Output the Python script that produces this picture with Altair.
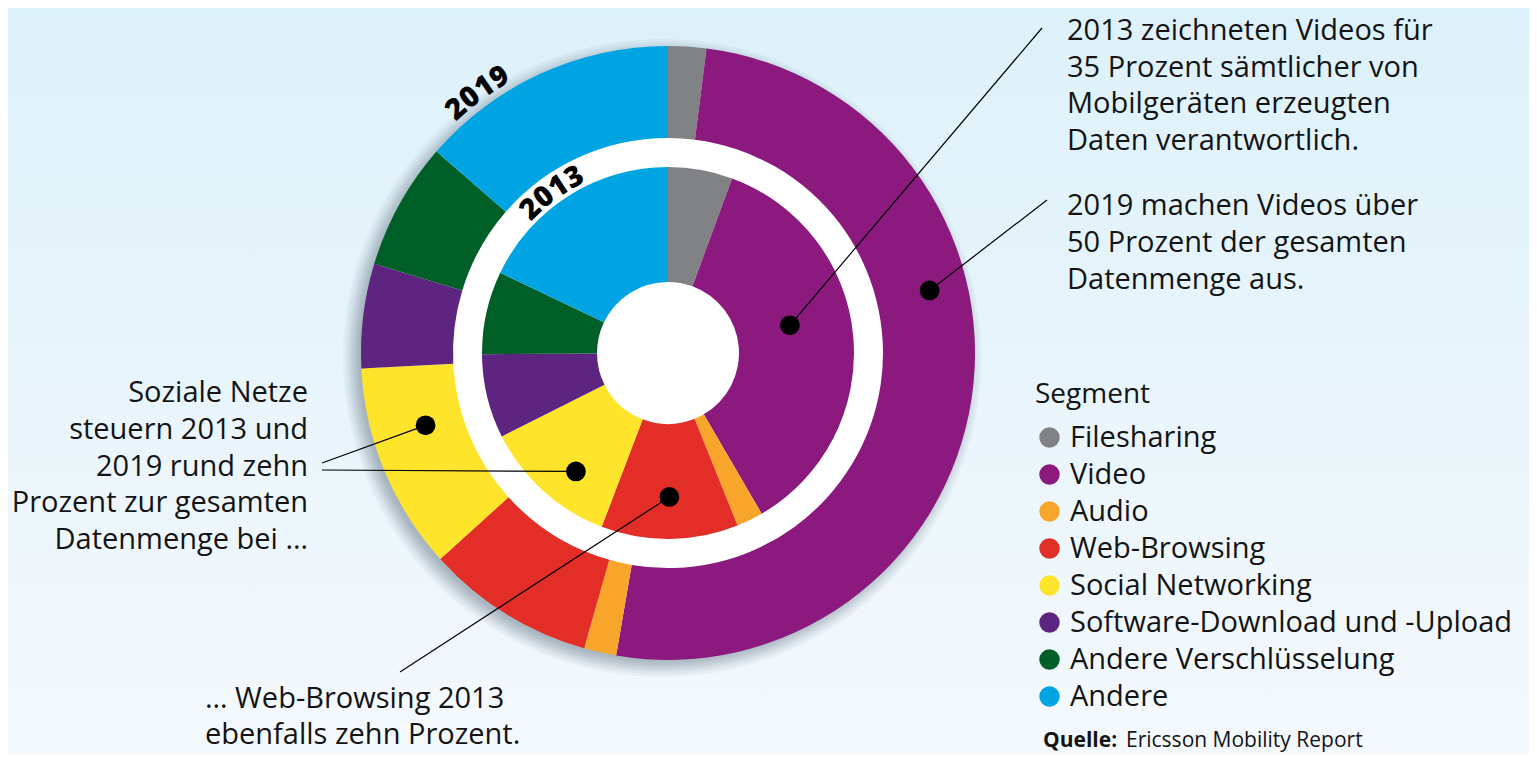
import math
import altair as alt
import pandas as pd

# ---------------- data ----------------
segments = ["Filesharing", "Video", "Audio", "Web-Browsing", "Social Networking",
            "Software-Download und -Upload", "Andere Verschlüsselung", "Andere"]
seg_colors = ["#808285", "#8c1a7e", "#f8a62b", "#e32d27", "#ffe42c",
              "#5d2480", "#005f26", "#00a4e2"]
share_2013 = [5.6, 36.0, 2.3, 11.9, 11.8, 7.3, 7.2, 17.9]
share_2019 = [2.0, 50.7, 1.7, 8.9, 10.9, 5.5, 6.7, 13.6]
year_labels = ["2013", "2019"]

note_video_2013 = ["2013 zeichneten Videos für", "35 Prozent sämtlicher von",
                   "Mobilgeräten erzeugten", "Daten verantwortlich."]
note_video_2019 = ["2019 machen Videos über", "50 Prozent der gesamten",
                   "Datenmenge aus."]
note_social = ["Soziale Netze", "steuern 2013 und", "2019 rund zehn",
               "Prozent zur gesamten", "Datenmenge bei …"]
note_web = ["… Web-Browsing 2013", "ebenfalls zehn Prozent."]
source_bold = "Quelle:"
source_text = "Ericsson Mobility Report"

# ---------------- layout ----------------
W, H = 1521, 746
CX, CY = 660, 345
R_WHITE = 341
RING = {"2019": (215, 307), "2013": (71, 186)}
FONT = "Open Sans"
TXT = "#141414"
FS = 29

shares = {"2013": share_2013, "2019": share_2019}

rows = []
for yr in year_labels:
    for i, (s, v) in enumerate(zip(segments, shares[yr])):
        rows.append({"year": yr, "segment": s, "share": v, "idx": i})
df_ring = pd.DataFrame(rows)


def polar(yr, seg, frac, r):
    vals = shares[yr]
    i = segments.index(seg)
    pos = sum(vals[:i]) + frac * vals[i]
    a = pos / sum(vals) * 2 * math.pi
    return CX + r * math.sin(a), CY - r * math.cos(a)


# annotation anchors: (year, segment, fraction inside segment, radius, line end)
anchors = [
    ("2013", "Video", 0.44, 125, (1034, 20)),
    ("2019", "Video", 0.38, 269, (1039, 192)),
    ("2019", "Social Networking", 0.65, 253, (314, 455)),
    ("2013", "Social Networking", 0.40, 150, (314, 462)),
    ("2013", "Web-Browsing", 0.50, 144, (392, 664)),
]
dots = []
for yr, seg, fr, r, (ex, ey) in anchors:
    x, y = polar(yr, seg, fr, r)
    dots.append({"x": x, "y": y, "x2": ex, "y2": ey})
df_dots = pd.DataFrame(dots)

# text lines
tl = []
def add_block(lines, x, y0, lh, al):
    for k, t in enumerate(lines):
        tl.append({"x": x, "y": y0 + k * lh, "t": t, "al": al})
add_block(note_video_2013, 1059, 23, 36.5, "left")
add_block(note_video_2019, 1059, 198, 37, "left")
add_block(note_social, 300, 385, 36.75, "right")
add_block(note_web, 197, 691, 36, "left")
df_txt = pd.DataFrame(tl)
df_left = df_txt[df_txt["al"] == "left"]
df_right = df_txt[df_txt["al"] == "right"]

# curved year labels
chars = []
for yr, r, ang, sp in [("2019", 323, 323.8, 18.0), ("2013", 199, 324.1, 18.0)]:
    n = len(yr)
    for k, ch in enumerate(yr):
        a = ang + (k - (n - 1) / 2) * math.degrees(sp / r)
        ar = math.radians(a)
        chars.append({"x": CX + r * math.sin(ar), "y": CY - r * math.cos(ar),
                      "c": ch, "ang": a % 360})
df_chars = pd.DataFrame(chars)

one = pd.DataFrame({"a": [0]})

# ---------------- layers ----------------
bg = alt.Chart(one).mark_rect(
    fill=alt.Gradient(gradient="linear",
                      stops=[alt.GradientStop(color="#ddf1fa", offset=0),
                             alt.GradientStop(color="#f4f9fd", offset=1)],
                      x1=0, x2=0, y1=0, y2=1)
).encode(x=alt.value(0), x2=alt.value(W), y=alt.value(0), y2=alt.value(H))

shadow_r = pd.DataFrame({"r": [R_WHITE + k for k in (1, 3, 5, 7, 9, 11, 13, 16, 19)]})
shadow = alt.Chart(shadow_r).transform_calculate(
    s="PI * datum.r * datum.r"
).mark_circle(color="#4a5a66", opacity=0.055).encode(
    x=alt.value(CX - 6), y=alt.value(CY + 5),
    size=alt.Size("s:Q", scale=None, legend=None))

white = alt.Chart(one).mark_circle(color="white", opacity=1,
                                   size=math.pi * R_WHITE ** 2).encode(
    x=alt.value(CX), y=alt.value(CY))

legend = alt.Legend(title="Segment", orient="none", legendX=1027, legendY=373,
                    symbolType="circle", symbolSize=420, labelFontSize=29,
                    titleFontSize=28, titleFontWeight="normal", titleFont=FONT,
                    labelFont=FONT, labelColor=TXT, titleColor=TXT,
                    rowPadding=7.0, titlePadding=14, labelOffset=6,
                    labelLimit=700, padding=0, symbolStrokeWidth=0)
color = alt.Color("segment:N", scale=alt.Scale(domain=segments, range=seg_colors),
                  legend=legend)


def ring(yr):
    r2, r1 = RING[yr]
    return alt.Chart(df_ring).transform_filter(
        alt.datum.year == yr
    ).mark_arc(radius=r1, radius2=r2).encode(
        theta=alt.Theta("share:Q", stack=True),
        order=alt.Order("idx:Q"),
        color=color,
        x=alt.value(CX), y=alt.value(CY))


rules = alt.Chart(df_dots).mark_rule(color="black", strokeWidth=1.2).encode(
    x=alt.X("x:Q", scale=None), y=alt.Y("y:Q", scale=None),
    x2="x2:Q", y2="y2:Q")
pts = alt.Chart(df_dots).mark_circle(color="black", opacity=1, size=390).encode(
    x=alt.X("x:Q", scale=None), y=alt.Y("y:Q", scale=None))

txt_l = alt.Chart(df_left).mark_text(align="left", baseline="middle", font=FONT,
                                     fontSize=FS, color=TXT).encode(
    x=alt.X("x:Q", scale=None), y=alt.Y("y:Q", scale=None), text="t:N")
txt_r = alt.Chart(df_right).mark_text(align="right", baseline="middle", font=FONT,
                                      fontSize=FS, color=TXT).encode(
    x=alt.X("x:Q", scale=None), y=alt.Y("y:Q", scale=None), text="t:N")

years_txt = alt.Chart(df_chars).mark_text(align="center", baseline="middle",
                                          font=FONT, fontSize=29, fontWeight=800,
                                          color="black").encode(
    x=alt.X("x:Q", scale=None), y=alt.Y("y:Q", scale=None), text="c:N",
    angle=alt.Angle("ang:Q", scale=None))

src_df = pd.DataFrame({"x": [1035, 1118], "y": [733, 733], "t": [source_bold, source_text],
                       "w": ["bold", "normal"]})
src_b = alt.Chart(src_df[src_df["w"] == "bold"]).mark_text(
    align="left", baseline="middle", font=FONT, fontSize=21, fontWeight="bold",
    color=TXT).encode(x=alt.X("x:Q", scale=None), y=alt.Y("y:Q", scale=None), text="t:N")
src_n = alt.Chart(src_df[src_df["w"] == "normal"]).mark_text(
    align="left", baseline="middle", font=FONT, fontSize=21, color=TXT).encode(
    x=alt.X("x:Q", scale=None), y=alt.Y("y:Q", scale=None), text="t:N")

chart = alt.layer(
    bg, shadow, white, ring("2019"), ring("2013"), rules, pts,
    txt_l, txt_r, years_txt, src_b, src_n
).properties(
    width=W, height=H, padding=0, autosize=alt.AutoSizeParams(type="none")
).configure_view(stroke=None).configure(background="white")

chart.save("out.html", embed_options={"renderer": "svg", "actions": False})
